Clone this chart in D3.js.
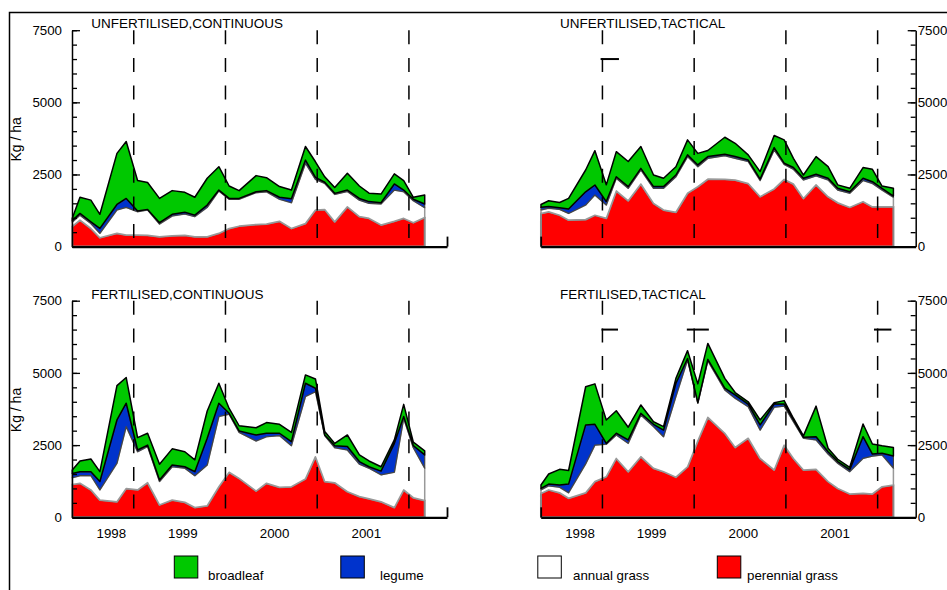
<!DOCTYPE html>
<html>
<head>
<meta charset="utf-8">
<script src="https://cdn.jsdelivr.net/npm/d3@7"></script>
<style>
  body { margin: 0; background: #fff; }
  svg { font-family: "Liberation Sans", Arial, sans-serif; }
</style>
</head>
<body>
<div id="chart"></div>
<script>

// sampling dates (decimal years), shared by the four panels
const sampleYears = [1997.800, 1997.884, 1998.003, 1998.101, 1998.287, 1998.388, 1998.512, 1998.621,
  1998.751, 1998.889, 1999.027, 1999.136, 1999.271, 1999.398, 1999.510, 1999.619,
  1999.804, 1999.917, 2000.059, 2000.189, 2000.342, 2000.451, 2000.552, 2000.661,
  2000.799, 2000.930, 2001.035, 2001.166, 2001.311, 2001.413, 2001.518, 2001.642];

// UNFERTILISED, CONTINUOUS (kg/ha)
const ucPerennial = [700, 920, 630, 310, 460, 400, 400, 390, 340, 380, 390, 340, 340, 460, 630, 710, 770, 780, 880, 630, 800, 1270, 1290, 860, 1380, 1040, 980, 750, 880, 980, 830, 1010];
const ucAnnual    = [150, 170, 170, 150, 810, 960, 810, 880, 440, 680, 740, 700, 1020, 1470, 1010, 930, 1100, 1120, 760, 890, 2090, 1060, 900, 950, 530, 570, 520, 730, 1080, 920, 760, 340];
const ucLegume    = [50, 60, 60, 170, 190, 310, 20, 20, 50, 60, 60, 50, 80, 30, 30, 30, 30, 40, 70, 140, 110, 70, 40, 35, 50, 60, 60, 40, 210, 60, 50, 125];
const ucBroadleaf = [80, 560, 750, 490, 1770, 1970, 1060, 930, 840, 820, 690, 620, 930, 810, 430, 270, 560, 450, 370, 300, 470, 540, 190, 205, 580, 430, 290, 300, 350, 330, 70, 315];

// UNFERTILISED, TACTICAL
const utPerennial = [1150, 1210, 1090, 920, 940, 1090, 980, 1930, 1590, 2170, 1500, 1270, 1190, 1850, 2080, 2340, 2330, 2310, 2190, 1730, 2000, 2330, 2170, 1670, 2140, 1730, 1520, 1360, 1560, 1380, 1380, 1380];
const utAnnual    = [120, 120, 200, 230, 500, 700, 460, 440, 430, 490, 520, 750, 1230, 1270, 690, 720, 820, 750, 760, 560, 1350, 520, 510, 640, 310, 580, 440, 490, 730, 810, 580, 330];
const utLegume    = [90, 60, 60, 150, 460, 345, 120, 50, 60, 50, 60, 60, 60, 60, 60, 60, 50, 60, 50, 50, 80, 40, 60, 60, 60, 60, 60, 50, 80, 60, 60, 40];
const utBroadleaf = [100, 200, 180, 370, 755, 1190, 580, 870, 870, 760, 400, 290, 290, 520, 400, 210, 590, 460, 180, 260, 420, 810, 320, 110, 610, 400, 120, 120, 370, 430, 80, 270];

// FERTILISED, CONTINUOUS
const fcPerennial = [1140, 1180, 950, 600, 540, 1000, 950, 1200, 430, 600, 520, 340, 400, 1060, 1560, 1350, 910, 1180, 1040, 1060, 1330, 2100, 1240, 1200, 890, 720, 640, 540, 340, 950, 680, 580];
const fcAnnual    = [230, 260, 490, 350, 1330, 2140, 1320, 1250, 810, 1150, 1180, 1100, 1410, 2430, 2010, 1590, 1730, 1610, 1790, 1420, 2850, 2250, 1590, 1210, 1440, 1120, 1060, 930, 1220, 2480, 1730, 1120];
const fcLegume    = [150, 140, 140, 290, 1500, 810, 60, 50, 50, 60, 50, 140, 930, 460, 30, 50, 210, 120, 80, 140, 460, 120, 20, 70, 120, 90, 50, 130, 1000, 60, 70, 460];
const fcBroadleaf = [120, 370, 440, 340, 1190, 890, 430, 410, 550, 560, 520, 410, 940, 690, 170, 180, 250, 370, 310, 320, 290, 320, 120, 80, 400, 230, 200, 150, 120, 420, 120, 140];

// FERTILISED, TACTICAL
const ftPerennial = [830, 950, 850, 660, 850, 1240, 1410, 2040, 1580, 2100, 1700, 1580, 1390, 1750, 2650, 3460, 2910, 2420, 2740, 2040, 1640, 2500, 2040, 1640, 1660, 1240, 1000, 810, 830, 810, 1060, 1120];
const ftAnnual    = [120, 140, 190, 190, 1000, 1260, 1120, 810, 980, 1440, 1440, 1210, 2790, 3700, 1300, 1960, 1500, 1700, 1090, 980, 2170, 1350, 1270, 1100, 1020, 950, 870, 770, 1210, 1310, 1100, 580];
const ftLegume    = [50, 60, 80, 300, 1350, 720, 30, 60, 120, 60, 80, 230, 460, 50, 20, 50, 60, 120, 90, 180, 110, 70, 60, 30, 110, 80, 60, 70, 750, 70, 60, 420];
const ftBroadleaf = [120, 350, 540, 470, 1320, 1400, 810, 780, 440, 290, 90, 120, 170, 270, 650, 550, 340, 80, 80, 170, 50, 120, 60, 50, 1060, 120, 80, 80, 440, 350, 260, 300];

// dashed reference lines, year labels, y ticks
const dashYears = [1998.47, 1999.47, 2000.47, 2001.47];
const yearTicks = [1998.22, 1999.0, 2000.0, 2001.0];
const yearLabels = ["1998", "1999", "2000", "2001"];
const yMajorTicks = [0, 2500, 5000, 7500];
const yMinorTicks = d3.range(0, 7501, 500);

// tactical rest periods (start, end) drawn at 6500 kg/ha
const utRests = [[1998.45, 1998.65]];
const ftRests = [[1998.46, 1998.64], [1999.39, 1999.63], [2001.43, 2001.62]];

const keys = ["broadleaf", "legume", "annual grass", "perennial grass"];
const colors = ["#00c800", "#0033cc", "#ffffff", "#ff0000"];

/*
SVG CANVAS
*/
const width = 947;
const height = 590;

const svg = d3.select("#chart")
  .append("svg")
  .attr("width", width)
  .attr("height", height);

// frame line along the top and the left side
svg.append("path")
  .attr("d", `M9.5,${height} V12.5 H${width}`)
  .attr("fill", "none")
  .attr("stroke", "#000")
  .attr("stroke-width", 1.5);

const panels = [
  { title: "UNFERTILISED,CONTINUOUS", left: 72, y0: 246.6, y1: 30.2, side: "left", years: false,
    data: [ucPerennial, ucAnnual, ucLegume, ucBroadleaf], rests: [] },
  { title: "UNFERTILISED,TACTICAL", left: 540.7, y0: 246.6, y1: 30.2, side: "right", years: false,
    data: [utPerennial, utAnnual, utLegume, utBroadleaf], rests: utRests },
  { title: "FERTILISED,CONTINUOUS", left: 72, y0: 517.3, y1: 300.7, side: "left", years: true,
    data: [fcPerennial, fcAnnual, fcLegume, fcBroadleaf], rests: [] },
  { title: "FERTILISED,TACTICAL", left: 540.7, y0: 517.3, y1: 300.7, side: "right", years: true,
    data: [ftPerennial, ftAnnual, ftLegume, ftBroadleaf], rests: ftRests }
];

const stackKeys = ["perennial", "annual", "legume", "broadleaf"];
const layerFill = { perennial: "#ff0000", annual: "#ffffff", legume: "#0033cc", broadleaf: "#00c800" };
const layerStroke = { perennial: "#888888", annual: "#999999", legume: "#444444", broadleaf: "#000000" };
const layerWidth = { perennial: 2, annual: 1.5, legume: 1.2, broadleaf: 1.5 };

const xScale = d3.scaleLinear()
  .domain([1997.797, 2001.885])
  .range([0, 375]);

panels.forEach(function (p) {

  const g = svg.append("g").attr("transform", `translate(${p.left},0)`);

  const yScale = d3.scaleLinear()
    .domain([0, 7500])
    .range([p.y0, p.y1]);

  const rows = sampleYears.map(function (yr, i) {
    return { year: yr, perennial: p.data[0][i], annual: p.data[1][i], legume: p.data[2][i], broadleaf: p.data[3][i] };
  });

  const series = d3.stack().keys(stackKeys)(rows);

  const area = d3.area()
    .x(function (d) { return xScale(d.data.year); })
    .y0(function (d) { return yScale(d[0]); })
    .y1(function (d) { return yScale(d[1]); })
    .curve(d3.curveLinear);

  g.selectAll("path.layer")
    .data(series)
    .enter()
    .append("path")
    .attr("class", "layer")
    .attr("d", area)
    .attr("fill", function (d) { return layerFill[d.key]; })
    .attr("stroke", function (d) { return layerStroke[d.key]; })
    .attr("stroke-width", function (d) { return layerWidth[d.key]; })
    .attr("stroke-linejoin", "round");

  // dashed vertical lines
  g.selectAll("line.dash")
    .data(dashYears)
    .enter()
    .append("line")
    .attr("x1", function (d) { return xScale(d); })
    .attr("x2", function (d) { return xScale(d); })
    .attr("y1", yScale(7500))
    .attr("y2", yScale(0))
    .attr("stroke", "#000")
    .attr("stroke-width", 1.5)
    .attr("stroke-dasharray", "14,13.7");

  // rest-period markers
  g.selectAll("line.rest")
    .data(p.rests)
    .enter()
    .append("line")
    .attr("x1", function (d) { return xScale(d[0]); })
    .attr("x2", function (d) { return xScale(d[1]); })
    .attr("y1", yScale(6500))
    .attr("y2", yScale(6500))
    .attr("stroke", "#000")
    .attr("stroke-width", 2);

  /*
  AXES
  */
  const axisX = p.side === "left" ? 0 : 375;
  const yAxisMaker = p.side === "left" ? d3.axisLeft : d3.axisRight;

  const yMinor = g.append("g")
    .attr("transform", `translate(${axisX},0)`)
    .call(yAxisMaker(yScale).tickValues(yMinorTicks).tickSizeInner(-5).tickSizeOuter(0).tickFormat(""));
  yMinor.select(".domain").remove();

  const yMajor = g.append("g")
    .attr("transform", `translate(${axisX},0)`)
    .call(yAxisMaker(yScale).tickValues(yMajorTicks).tickSizeInner(-8).tickSizeOuter(0)
      .tickPadding(p.side === "left" ? 10 : 2).tickFormat(d3.format("d")));
  yMajor.selectAll("text").attr("font-size", 13.3).attr("font-family", "Liberation Sans, Arial, sans-serif").attr("fill", "#000");

  g.selectAll(".tick line").attr("stroke", "#000").attr("stroke-width", 1.3);
  g.selectAll(".domain").attr("stroke", "#000").attr("stroke-width", 1.5);

  // x axis line with the end tick
  const endYear = p.side === "left" ? xScale.domain()[1] : xScale.domain()[0];
  const xAxis = g.append("g")
    .attr("transform", `translate(0,${p.y0})`)
    .call(d3.axisBottom(xScale).tickValues([endYear]).tickSizeInner(-10).tickSizeOuter(0).tickFormat(""));
  xAxis.select(".domain").attr("stroke", "#000").attr("stroke-width", 2.2);
  xAxis.selectAll(".tick line").attr("stroke", "#000").attr("stroke-width", 1.8);

  if (p.years) {
    const yearAxis = g.append("g")
      .attr("transform", `translate(0,${p.y0})`)
      .call(d3.axisBottom(xScale).tickValues(yearTicks).tickSize(0).tickPadding(11.5)
        .tickFormat(function (d, i) { return yearLabels[i]; }));
    yearAxis.select(".domain").remove();
    yearAxis.selectAll("text").attr("font-size", 13.3).attr("font-family", "Liberation Sans, Arial, sans-serif").attr("fill", "#000");
  }

  // panel title
  g.append("text")
    .attr("x", 19.3)
    .attr("y", p.y1 - 1.8)
    .attr("font-size", 13.5)
    .attr("fill", "#000")
    .text(p.title);

  if (p.side === "left") {
    svg.append("text")
      .attr("transform", `translate(21,${(p.y0 + p.y1) / 2 + 1}) rotate(-90)`)
      .attr("text-anchor", "middle")
      .attr("font-size", 14)
      .attr("fill", "#000")
      .text("Kg / ha");
  }
});

/*
LEGEND
*/
const legendRectX = [174.3, 340.8, 537.8, 717.3];
const legendTextX = [208, 380, 573, 747];

const legend = svg.selectAll("g.legend")
  .data(keys)
  .enter()
  .append("g")
  .attr("class", "legend");

legend.append("rect")
  .attr("x", function (d, i) { return legendRectX[i]; })
  .attr("y", 556)
  .attr("width", 23.5)
  .attr("height", 22)
  .attr("fill", function (d, i) { return colors[i]; })
  .attr("stroke", "#000")
  .attr("stroke-width", 1);

legend.append("text")
  .attr("x", function (d, i) { return legendTextX[i]; })
  .attr("y", 580)
  .attr("font-size", 13.3)
  .attr("fill", "#000")
  .text(function (d) { return d; });

</script>
</body>
</html>
